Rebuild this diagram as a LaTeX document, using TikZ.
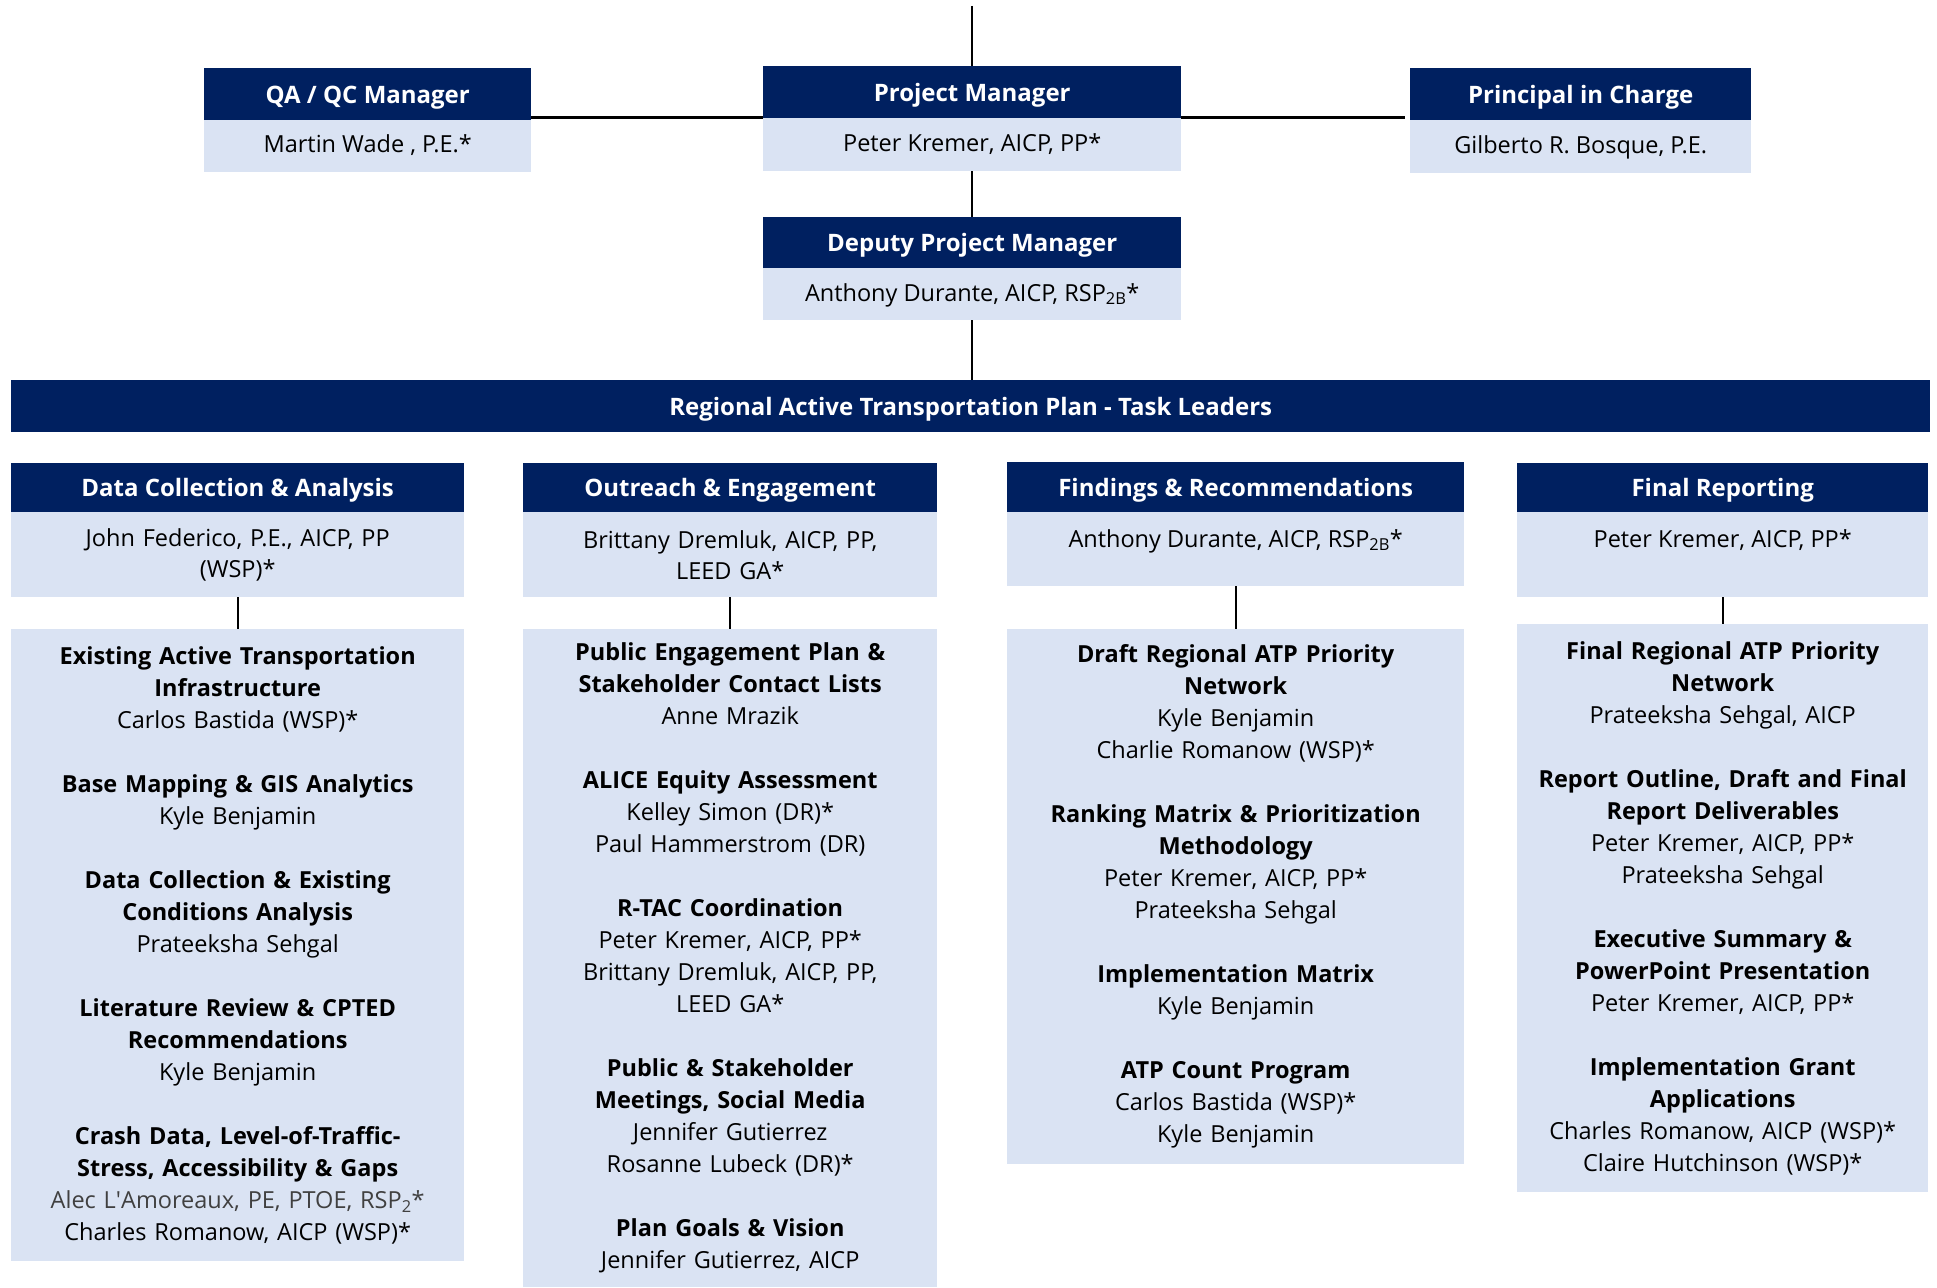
\documentclass[tikz,border=0pt]{standalone}
\usepackage{fontspec}
\setmainfont{Open Sans}
\definecolor{navy}{RGB}{0,32,96}
\definecolor{lite}{RGB}{218,227,243}
\definecolor{alecgray}{RGB}{64,64,64}
\newcommand{\hdfont}{\fontsize{24}{30}\selectfont\bfseries}
\newcommand{\bdfont}{\fontsize{23.5}{31}\selectfont}
\newcommand{\tkfont}{\fontsize{23.5}{32}\selectfont}
\newcommand{\gap}{\\[32pt]}
\tikzset{
  hd/.style={fill=navy, text=white, font=\hdfont, inner sep=0pt, anchor=north west, align=center, text height=18pt, text depth=0pt},
  bd/.style={fill=lite, text=black, font=\bdfont, inner sep=0pt, anchor=north west, align=center},
  tk/.style={fill=lite, text=black, font=\tkfont, inner sep=0pt, anchor=north west, align=center},
  conn/.style={line width=2pt, black},
  hconn/.style={line width=3pt, black},
}
\begin{document}
\begin{tikzpicture}[x=1pt,y=-1pt]
\useasboundingbox[fill=white] (0,0) rectangle (1937,1287);
% top row
\node[hd, minimum width=327pt, minimum height=52pt] (qaH) at (204,68) {QA / QC Manager};
\node[bd, minimum width=327pt, minimum height=52pt, text height=17pt, text depth=4pt] (qaB) at (204,120) {Martin Wade , P.E.*};
\node[hd, minimum width=418pt, minimum height=52pt] (pmH) at (763,66) {Project Manager};
\node[bd, minimum width=418pt, minimum height=53pt, text height=17pt, text depth=4pt] (pmB) at (763,118) {Peter Kremer, AICP, PP*};
\node[hd, minimum width=341pt, minimum height=52pt] (prH) at (1410,68) {Principal in Charge};
\node[bd, minimum width=341pt, minimum height=53pt, text height=17pt, text depth=4pt] (prB) at (1410,120) {Gilberto R. Bosque, P.E.};
\node[hd, minimum width=418pt, minimum height=51pt] (dpH) at (763,217) {Deputy Project Manager};
\node[bd, minimum width=418pt, minimum height=52pt, text height=17pt, text depth=3pt] (dpB) at (763,268) {Anthony Durante, AICP, RSP\textsubscript{2B}*};
% banner
\node[hd, minimum width=1919pt, minimum height=52pt] (ban) at (11,380) {Regional Active Transportation Plan - Task Leaders};
% column headers
\node[hd, minimum width=453pt, minimum height=49pt] (c1H) at (11,463) {Data Collection \& Analysis};
\node[bd, minimum width=453pt, minimum height=85pt, text width=430pt] (c1B) at (11,512) {John Federico, P.E., AICP, PP\\(WSP)*};
\node[hd, minimum width=414pt, minimum height=49pt] (c2H) at (523,463) {Outreach \& Engagement};
\node[bd, minimum width=414pt, minimum height=85pt, text width=390pt] (c2B) at (523,512) {Brittany Dremluk, AICP, PP,\\LEED GA*};
\node[hd, minimum width=457pt, minimum height=50pt] (c3H) at (1007,462) {Findings \& Recommendations};
\node[bd, minimum width=457pt, minimum height=74pt] (c3B) at (1007,512) {};
\node[font=\bdfont, anchor=base, inner sep=0pt] (c3T) at ([yshift=-35pt]c3B.north) {Anthony Durante, AICP, RSP\textsubscript{2B}*};
\node[hd, minimum width=411pt, minimum height=49pt] (c4H) at (1517,463) {Final Reporting};
\node[bd, minimum width=411pt, minimum height=85pt] (c4B) at (1517,512) {};
\node[font=\bdfont, anchor=base, inner sep=0pt] (c4T) at ([yshift=-35pt]c4B.north) {Peter Kremer, AICP, PP*};
% task boxes
\node[tk, minimum width=453pt, minimum height=632pt, text width=445pt] (t1) at (11,629) {%
\textbf{Existing Active Transportation}\\\textbf{Infrastructure}\\Carlos Bastida (WSP)*\gap
\textbf{Base Mapping \& GIS Analytics}\\Kyle Benjamin\gap
\textbf{Data Collection \& Existing}\\\textbf{Conditions Analysis}\\Prateeksha Sehgal\gap
\textbf{Literature Review \& CPTED}\\\textbf{Recommendations}\\Kyle Benjamin\gap
\textbf{Crash Data, Level-of-Traffic-}\\\textbf{Stress, Accessibility \& Gaps}\\{\color{alecgray}Alec L\textquotesingle Amoreaux, PE, PTOE, RSP\textsubscript{2}*}\\Charles Romanow, AICP (WSP)*};
\node[tk, minimum width=414pt, minimum height=658pt, text width=408pt] (t2) at (523,629) {%
\textbf{Public Engagement Plan \&}\\\textbf{Stakeholder Contact Lists}\\Anne Mrazik\gap
\textbf{ALICE Equity Assessment}\\Kelley Simon (DR)*\\Paul Hammerstrom (DR)\gap
\textbf{R-TAC Coordination}\\Peter Kremer, AICP, PP*\\Brittany Dremluk, AICP, PP,\\LEED GA*\gap
\textbf{Public \& Stakeholder}\\\textbf{Meetings, Social Media}\\Jennifer Gutierrez\\Rosanne Lubeck (DR)*\gap
\textbf{Plan Goals \& Vision}\\Jennifer Gutierrez, AICP};
\node[tk, minimum width=457pt, minimum height=535pt, text width=450pt] (t3) at (1007,629) {%
\textbf{Draft Regional ATP Priority}\\\textbf{Network}\\Kyle Benjamin\\Charlie Romanow (WSP)*\gap
\textbf{Ranking Matrix \& Prioritization}\\\textbf{Methodology}\\Peter Kremer, AICP, PP*\\Prateeksha Sehgal\gap
\textbf{Implementation Matrix}\\Kyle Benjamin\gap
\textbf{ATP Count Program}\\Carlos Bastida (WSP)*\\Kyle Benjamin};
\node[tk, minimum width=411pt, minimum height=568pt, text width=408pt] (t4) at (1517,624) {%
\textbf{Final Regional ATP Priority}\\\textbf{Network}\\Prateeksha Sehgal, AICP\gap
\textbf{Report Outline, Draft and Final}\\\textbf{Report Deliverables}\\Peter Kremer, AICP, PP*\\Prateeksha Sehgal\gap
\textbf{Executive Summary \&}\\\textbf{PowerPoint Presentation}\\Peter Kremer, AICP, PP*\gap
\textbf{Implementation Grant}\\\textbf{Applications}\\Charles Romanow, AICP (WSP)*\\Claire Hutchinson (WSP)*};
% connectors
\coordinate (topend) at (pmH.north |- 0,6);
\draw[conn] (topend) -- (pmH.north);
\draw[hconn] ([yshift=1pt]pmH.south west) -- ([yshift=1pt]pmH.south west -| qaH.east);
\draw[hconn] ([yshift=1pt]pmH.south east) -- ([yshift=1pt,xshift=-5pt]pmH.south east -| prH.west);
\draw[conn] (pmB.south) -- (dpH.north);
\draw[conn] (dpB.south) -- (dpB.south |- ban.north);
\draw[conn] (c1B.south) -- (t1.north);
\draw[conn] (c2B.south) -- (t2.north);
\draw[conn] (c3B.south -| t3.north) -- (t3.north);
\draw[conn] (c4B.south) -- (t4.north);
\end{tikzpicture}
\end{document}
